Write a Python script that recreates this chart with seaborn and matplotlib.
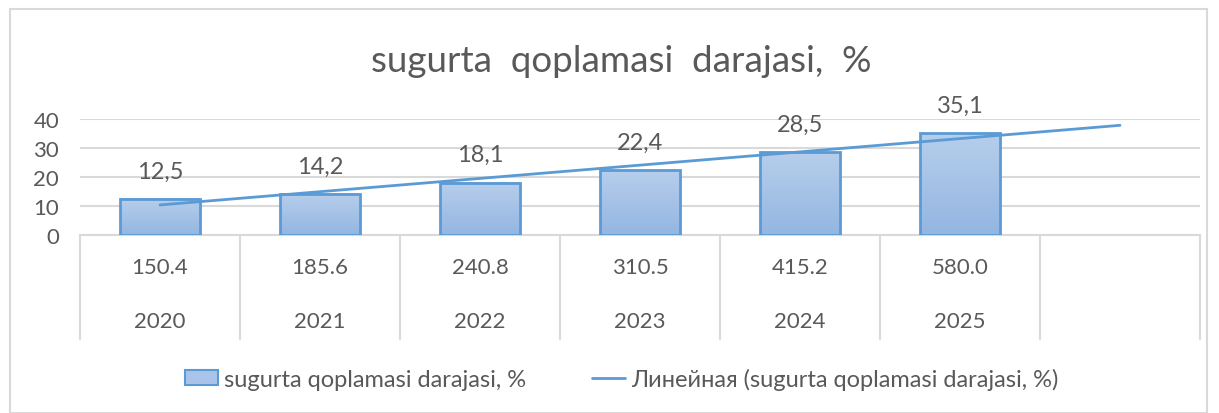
import numpy as np
import pandas as pd
import matplotlib
matplotlib.use("Agg")
import matplotlib.pyplot as plt
import seaborn as sns
from matplotlib.colors import LinearSegmentedColormap
from matplotlib.patches import Rectangle, Patch
from matplotlib.lines import Line2D
import matplotlib.transforms as mtransforms

# ---- data ----
years = ["2020", "2021", "2022", "2023", "2024", "2025"]
coverage = [12.5, 14.2, 18.1, 22.4, 28.5, 35.1]
row_values = ["150.4", "185.6", "240.8", "310.5", "415.2", "580.0"]
title = "sugurta  qoplamasi  darajasi,  %"
series_name = "sugurta qoplamasi darajasi, %"
trend_name = "Линейная (sugurta qoplamasi darajasi, %)"
y_ticks = [0, 10, 20, 30, 40]

sns.set_theme(style="white")
plt.rcParams["font.family"] = ["Lato", "DejaVu Sans"]
TXT = "#595959"
BLUE = "#5b9bd5"
GRID = "#d9d9d9"

W, H = 1219, 414
fig = plt.figure(figsize=(W / 100, H / 100), dpi=100)
ax = fig.add_axes([80 / W, (H - 236) / H, (1200 - 80) / W, (236 - 120) / H])

order = years + [" "]
df = pd.DataFrame({"year": years, "val": coverage})
sns.barplot(data=df, x="year", y="val", order=order, width=0.5,
            color=BLUE, edgecolor=BLUE, linewidth=2, ax=ax, zorder=4)

# gradient fill
cmap = LinearSegmentedColormap.from_list("g", ["#93b6e2", "#b7ceeb"])
grad = np.linspace(0, 1, 100).reshape(-1, 1)
for p in list(ax.patches):
    p.set_facecolor("none")
    p.set_edgecolor(BLUE)
    x0, y0 = p.get_x(), p.get_y()
    w, h = p.get_width(), p.get_height()
    ax.imshow(grad, extent=[x0, x0 + w, y0, y0 + h], origin="lower",
              aspect="auto", cmap=cmap, zorder=3, interpolation="bicubic")

# trendline (linear fit, forecast one period forward)
xs = np.arange(1, len(coverage) + 1)
k, b = np.polyfit(xs, coverage, 1)
xt = np.arange(1, len(order) + 1)
trend_df = pd.DataFrame({"x": xt - 1, "y": k * xt + b})
sns.lineplot(data=trend_df, x="x", y="y", color=BLUE, linewidth=2, ax=ax, zorder=5)

ax.set_xlim(-0.5, len(order) - 0.5)
ax.set_ylim(0, 40)
ax.set_yticks(y_ticks)
ax.set_yticklabels([str(t) for t in y_ticks], fontsize=16, color=TXT)
ax.tick_params(axis="y", length=0, pad=15)
ax.set_xticks([])
ax.set_xlabel("")
ax.set_ylabel("")
for s in ax.spines.values():
    s.set_visible(False)
ax.yaxis.grid(True, color=GRID, linewidth=1.5, zorder=0)
ax.set_axisbelow(True)
ax.axhline(0, color=GRID, linewidth=1.5, zorder=2, clip_on=False)

# data labels
for i, v in enumerate(coverage):
    ax.annotate(f"{v:.1f}".replace(".", ","), (i, v), xytext=(0, 20),
                textcoords="offset points", ha="center", va="center",
                fontsize=17, color=TXT)

# category table
tr = mtransforms.blended_transform_factory(ax.transData, ax.transAxes)
axh = 116
for xb in np.arange(-0.5, len(order), 1.0):
    ax.plot([xb, xb], [0, -104 / axh], transform=tr, color=GRID,
            linewidth=1.5, clip_on=False)
for i, (rv, yr) in enumerate(zip(row_values, years)):
    ax.text(i, -32 / axh, rv, transform=tr, ha="center", va="center",
            fontsize=16, color=TXT)
    ax.text(i, -86 / axh, yr, transform=tr, ha="center", va="center",
            fontsize=16, color=TXT)

# title
fig.text(621 / W, (H - 62) / H, title, ha="center", va="center",
         fontsize=26.5, color=TXT)

# legend
handles = [Patch(facecolor="#a9c4e8", edgecolor=BLUE, linewidth=1.5),
           Line2D([0], [0], color=BLUE, linewidth=2)]
fig.legend(handles, [series_name, trend_name], loc="center",
           bbox_to_anchor=(622 / W, (H - 380) / H), ncol=2, frameon=False,
           fontsize=17, labelcolor=TXT, columnspacing=2.8, handlelength=1.4,
           handletextpad=0.25, handleheight=0.6)

# outer chart border
fig.patches.append(Rectangle((10 / W, 0), (1207 - 10) / W, (H - 10) / H,
                             transform=fig.transFigure, fill=False,
                             edgecolor=GRID, linewidth=1.5))

fig.savefig("out.png", dpi=100, facecolor="white")
